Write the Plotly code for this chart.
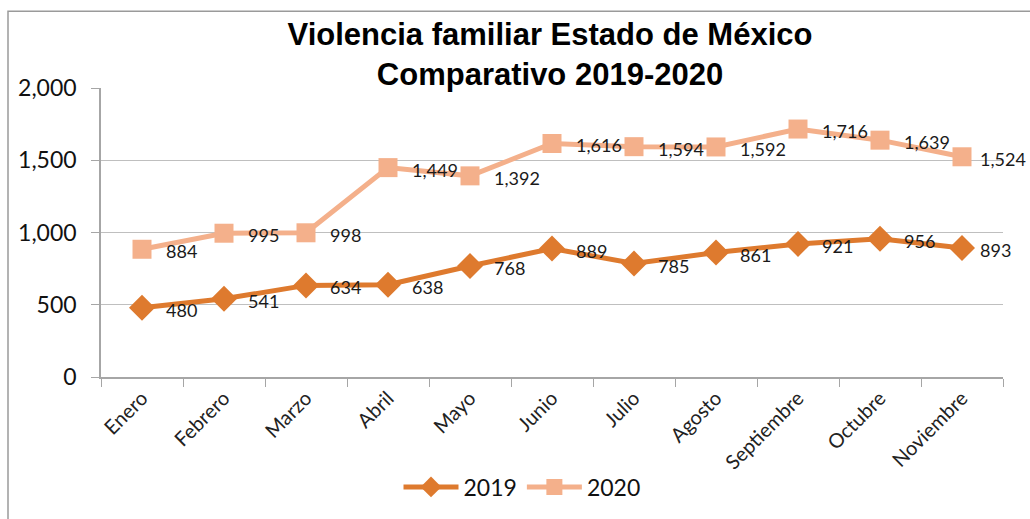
import plotly.graph_objects as go

meses = ["Enero", "Febrero", "Marzo", "Abril", "Mayo", "Junio", "Julio",
         "Agosto", "Septiembre", "Octubre", "Noviembre"]
casos_2019 = [480, 541, 634, 638, 768, 889, 785, 861, 921, 956, 893]
casos_2020 = [884, 995, 998, 1449, 1392, 1616, 1594, 1592, 1716, 1639, 1524]

W, H = 1030, 519
L, R, T, B = 101, 27, 88, 141
pw, ph = W - L - R, H - T - B

COL_2019 = "#DE7A2E"
COL_2020 = "#F4B08B"
SANS = "Lato, 'Open Sans', sans-serif"
LABEL_FONT = dict(family=SANS, size=18, color="#1a1a1a")


def fmt(v):
    return f"{v:,}"


fig = go.Figure()
fig.add_trace(go.Scatter(
    x=meses, y=casos_2019, name="2019", mode="lines+markers",
    line=dict(color=COL_2019, width=5),
    marker=dict(symbol="diamond", size=20, color=COL_2019),
))
fig.add_trace(go.Scatter(
    x=meses, y=casos_2020, name="2020", mode="lines+markers",
    line=dict(color=COL_2020, width=5),
    marker=dict(symbol="square", size=19, color=COL_2020),
))

# value labels placed to the right of each point; the last one sits a bit
# closer so it stays inside the chart frame
for serie in (casos_2019, casos_2020):
    for i, (mes, v) in enumerate(zip(meses, serie)):
        shift = 16 if i == len(meses) - 1 else 22
        fig.add_annotation(x=mes, y=v, text=fmt(v), showarrow=False,
                           xanchor="left", yanchor="middle",
                           xshift=shift, yshift=-2, font=LABEL_FONT)

# outer frame of the chart area (left and top edges visible)
fig.add_shape(type="rect", xref="paper", yref="paper",
              x0=(8 - L) / pw, x1=(W + 10 - L) / pw,
              y0=(H - B - (H + 10)) / ph, y1=(H - B - 11) / ph,
              line=dict(color="#9a9a9a", width=1.5), layer="below")

fig.update_layout(
    width=W, height=H,
    margin=dict(l=L, r=R, t=T, b=B),
    paper_bgcolor="white", plot_bgcolor="white",
    title=dict(
        text="Violencia familiar Estado de México<br>Comparativo 2019-2020",
        x=(550 - L) / pw, xref="paper", xanchor="center",
        y=1 - 45 / H, yanchor="middle",
        font=dict(family="'Liberation Sans', Arial, sans-serif", size=31,
                  color="black", weight="bold"),
    ),
    xaxis=dict(
        type="category", range=[-0.5, len(meses) - 0.5],
        tickangle=-45, tickson="boundaries",
        ticks="outside", ticklen=8, tickcolor="#a6a6a6",
        showline=True, linecolor="#a6a6a6", linewidth=1.5,
        showgrid=False,
        tickfont=dict(family=SANS, size=20, color="#222"),
    ),
    yaxis=dict(
        range=[0, 2000], tickvals=[0, 500, 1000, 1500, 2000],
        tickformat=",", ticks="outside", ticklen=8, tickcolor="#a6a6a6",
        ticklabelstandoff=10,
        showline=True, linecolor="#a6a6a6", linewidth=1.5,
        showgrid=True, gridcolor="#bfbfbf", gridwidth=1,
        zeroline=False,
        tickfont=dict(family=SANS, size=23, color="#111"),
    ),
    legend=dict(
        orientation="h", x=(522 - L) / pw, xanchor="center",
        y=-(487 - (H - B)) / ph, yanchor="middle",
        font=dict(family=SANS, size=23, color="#111"),
        itemwidth=55,
    ),
    showlegend=True,
)

fig.write_html("out.html")
